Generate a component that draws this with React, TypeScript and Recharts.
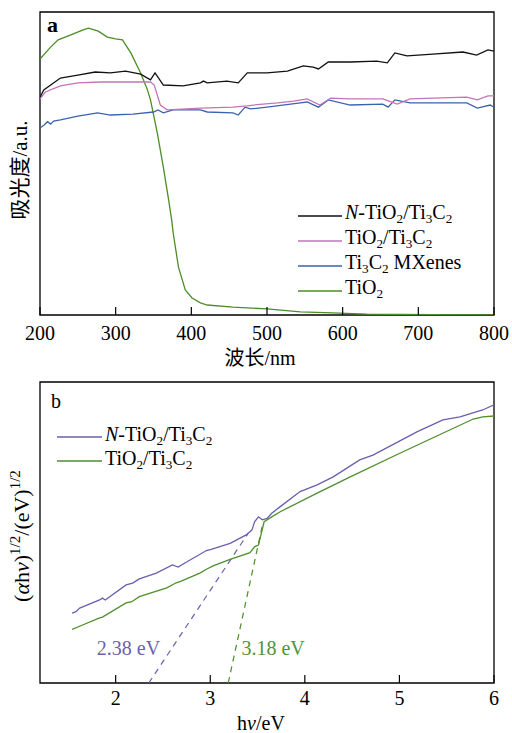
import React from 'react';
import { LineChart, Line, XAxis, YAxis, ReferenceArea, ReferenceDot, Legend } from 'recharts';

const FONT = "'Liberation Serif', 'Times New Roman', 'Noto Sans CJK SC', serif";

// ---------- Panel a : UV-vis absorbance ----------
const wlTicks = [200, 300, 400, 500, 600, 700, 800];

const nTiO2Wl = [200, 205, 227, 250, 273, 293, 313, 333, 346, 352, 363, 389, 412, 416, 421, 447, 462, 474, 500, 527, 548, 561, 568, 581, 610, 645, 659, 669, 685, 719, 759, 777, 792, 800];
const nTiO2Abs = [71.9, 74.3, 78.2, 79.2, 80.2, 79.9, 80.5, 79.5, 77.6, 79.9, 75.9, 75.6, 76.6, 77.2, 76.6, 77.2, 76.6, 79.9, 79.9, 80.5, 82.2, 81.8, 81.2, 83.5, 83.5, 83.8, 83.2, 86.5, 85.5, 86.1, 86.8, 85.8, 87.5, 87.1];

const tiO2Ti3C2Wl = [200, 207, 227, 250, 280, 323, 346, 351, 359, 368, 412, 455, 474, 482, 514, 535, 553, 570, 584, 610, 653, 672, 689, 720, 764, 778, 792, 800];
const tiO2Ti3C2Abs = [71.3, 73.6, 75.6, 76.6, 76.9, 76.9, 76.9, 75.9, 69.3, 67.7, 68.3, 68.6, 69.0, 69.3, 70.0, 70.6, 71.3, 69.3, 71.6, 71.3, 71.3, 69.6, 71.3, 71.6, 71.9, 71.0, 72.3, 72.3];

const ti3C2Wl = [200, 205, 210, 214, 218, 227, 250, 276, 293, 323, 350, 356, 363, 376, 412, 421, 455, 462, 471, 478, 500, 544, 553, 568, 581, 610, 653, 660, 669, 689, 764, 778, 795, 800];
const ti3C2Abs = [61.7, 62.6, 63.8, 63.0, 64.0, 64.4, 65.6, 66.7, 66.0, 66.3, 67.0, 67.7, 66.7, 67.7, 67.7, 67.0, 66.7, 66.0, 68.6, 68.0, 68.6, 70.0, 70.3, 68.6, 71.0, 69.3, 69.6, 68.6, 71.0, 70.0, 70.0, 68.3, 69.3, 68.6];

const tiO2Wl = [200, 214, 224, 240, 257, 264, 277, 289, 300, 309, 320, 333, 342, 346, 355, 363, 370, 374, 376, 383, 392, 401, 412, 421, 455, 500, 544, 587, 632, 676, 720, 800];
const tiO2Abs = [84.5, 88.4, 90.8, 92.4, 94.1, 94.7, 93.7, 91.7, 91.1, 90.8, 86.5, 79.9, 74.3, 71.0, 60.1, 48.8, 38.0, 31.4, 27.1, 15.8, 8.3, 5.6, 4.0, 3.3, 2.6, 2.0, 1.0, 0.7, 0.3, 0.2, 0.1, 0];

const legendA = [
  { name: 'N-TiO2/Ti3C2', color: '#111111' },
  { name: 'TiO2/Ti3C2', color: '#c374b9' },
  { name: 'Ti3C2 MXenes', color: '#3a63ae' },
  { name: 'TiO2', color: '#4d8d26' },
];

// ---------- Panel b : Tauc plot ----------
const evTicks = [2, 3, 4, 5, 6];

const nTaucEv = [1.54, 1.58, 1.62, 1.83, 1.86, 1.89, 2.11, 2.18, 2.25, 2.43, 2.60, 2.66, 2.75, 2.96, 3.01, 3.21, 3.38, 3.44, 3.47, 3.51, 3.55, 3.60, 3.65, 3.74, 3.95, 4.13, 4.30, 4.58, 4.72, 5.19, 5.46, 5.64, 5.88, 6.0];
const nTaucVal = [23.2, 23.7, 24.9, 27.6, 28.2, 27.6, 32.6, 33.2, 34.6, 36.5, 39.2, 38.5, 40.2, 44.0, 44.4, 46.4, 49.2, 50.8, 53.6, 55.2, 54.2, 54.7, 56.4, 58.6, 63.6, 65.8, 68.5, 74.1, 75.7, 83.5, 87.4, 88.4, 90.7, 92.4];

const taucEv = [1.54, 1.60, 1.83, 1.86, 2.11, 2.17, 2.25, 2.54, 2.64, 2.68, 2.89, 2.96, 3.03, 3.21, 3.42, 3.47, 3.51, 3.57, 3.65, 3.74, 4.13, 4.48, 5.01, 5.35, 5.78, 5.88, 6.0];
const taucVal = [17.8, 18.6, 21.6, 21.9, 26.6, 27.0, 28.7, 31.6, 33.3, 33.7, 36.5, 37.8, 38.9, 41.1, 43.3, 45.3, 45.8, 53.6, 55.2, 56.9, 63.1, 68.5, 76.4, 81.4, 87.7, 88.4, 88.7];

const nTangentEv = [2.35, 3.40];
const nTangentVal = [0, 49.7];
const tangentEv = [3.19, 3.56];
const tangentVal = [0, 53.6];

const gapLabels = [
  { text: '2.38 eV', ev: 1.80, val: 9.3, color: '#6a62ad' },
  { text: '3.18 eV', ev: 3.33, val: 9.3, color: '#4f9537' },
];

const legendB = [
  { name: 'N-TiO2/Ti3C2', color: '#6a5fae' },
  { name: 'TiO2/Ti3C2', color: '#4f8f2c' },
];

const zip = (xs: number[], ys: number[]) => xs.map((x, i) => ({ x, y: ys[i] }));

function chem(name: string) {
  const parts: React.ReactNode[] = [];
  let i = 0;
  if (name.startsWith('N-')) {
    parts.push(<i key="n">N</i>);
    parts.push('-');
    i = 2;
  }
  let buf = '';
  for (; i < name.length; i++) {
    const c = name[i];
    if (/[0-9]/.test(c) && i > 0 && /[A-Za-z]/.test(name[i - 1])) {
      if (buf) { parts.push(buf); buf = ''; }
      parts.push(
        <span key={'s' + i} style={{ fontSize: '0.66em', position: 'relative', top: '0.32em' }}>{c}</span>
      );
    } else buf += c;
  }
  if (buf) parts.push(buf);
  return parts;
}

const LegendBox = ({ items, lineW, rowH }: { items: { name: string; color: string }[]; lineW: number; rowH: number }) => (
  <div style={{ fontFamily: FONT, fontSize: 20, color: '#000' }}>
    {items.map((it, idx) => (
      <div key={idx} style={{ display: 'flex', alignItems: 'center', height: rowH }}>
        <svg width={lineW} height={4} style={{ marginRight: 3, display: 'block' }}>
          <line x1={0} x2={lineW} y1={2} y2={2} stroke={it.color} strokeWidth={1.4} />
        </svg>
        <span style={{ lineHeight: rowH + 'px', whiteSpace: 'nowrap', position: 'relative', top: -2 }}>{chem(it.name)}</span>
      </div>
    ))}
  </div>
);

const makeTick = (fs: number, dy: number) => (p: any) => (
  <g>
    <line x1={p.x} x2={p.x} y1={p.y} y2={p.y - 8} stroke="#000" strokeWidth={1.2} />
    <text x={p.x} y={p.y + dy} textAnchor="middle" fontSize={fs} fontFamily={FONT} fill="#000">
      {p.payload.value}
    </text>
  </g>
);

export default function App() {
  return (
    <div style={{ position: 'absolute', left: 0, top: 0, width: 512, height: 733, background: '#fff' }}>
      <div style={{ position: 'absolute', left: 0, top: 0 }}>
        <LineChart width={512} height={372} margin={{ top: 12, right: 18, bottom: 0, left: 0 }}>
          <XAxis
            type="number"
            dataKey="x"
            domain={[200, 800]}
            ticks={wlTicks}
            allowDataOverflow
            height={57}
            axisLine={false}
            tickLine={false}
            tickSize={0}
            tickMargin={0}
            interval={0}
            tick={makeTick(20, 25)}
            label={() => (
              <text x={260} y={365} textAnchor="middle" fontSize={20} fontFamily={FONT} fill="#000">
                波长/nm
              </text>
            )}
          />
          <YAxis
            type="number"
            domain={[0, 100]}
            width={40}
            tick={false}
            axisLine={false}
            tickLine={false}
            allowDataOverflow
            label={() => (
              <text transform="translate(27,170) rotate(-90)" textAnchor="middle" fontSize={21} fontFamily={FONT} fill="#000">
                吸光度/a.u.
              </text>
            )}
          />
          <ReferenceArea
            x1={200}
            x2={800}
            y1={0}
            y2={100}
            fill="none"
            stroke="#000"
            strokeWidth={1.3}
            label={(p: any) => (
              <text x={p.viewBox.x + 7} y={p.viewBox.y + 20} fontSize={22} fontWeight="bold" fontFamily={FONT} fill="#000">
                a
              </text>
            )}
          />
          <Line data={zip(tiO2Wl, tiO2Abs)} dataKey="y" name="TiO2" stroke={legendA[3].color} strokeWidth={1.3} dot={false} isAnimationActive={false} />
          <Line data={zip(ti3C2Wl, ti3C2Abs)} dataKey="y" name="Ti3C2 MXenes" stroke={legendA[2].color} strokeWidth={1.3} dot={false} isAnimationActive={false} />
          <Line data={zip(tiO2Ti3C2Wl, tiO2Ti3C2Abs)} dataKey="y" name="TiO2/Ti3C2" stroke={legendA[1].color} strokeWidth={1.3} dot={false} isAnimationActive={false} />
          <Line data={zip(nTiO2Wl, nTiO2Abs)} dataKey="y" name="N-TiO2/Ti3C2" stroke={legendA[0].color} strokeWidth={1.3} dot={false} isAnimationActive={false} />
          <Legend
            layout="vertical"
            verticalAlign="middle"
            align="center"
            wrapperStyle={{ left: 298, top: 203, width: 200 }}
            content={() => <LegendBox items={legendA} lineW={44} rowH={25} />}
          />
        </LineChart>
      </div>
      <div style={{ position: 'absolute', left: 0, top: 372 }}>
        <LineChart width={512} height={361} margin={{ top: 10, right: 18, bottom: 0, left: 0 }}>
          <XAxis
            type="number"
            dataKey="x"
            domain={[1.2, 6]}
            ticks={evTicks}
            allowDataOverflow
            height={50}
            axisLine={false}
            tickLine={false}
            tickSize={0}
            tickMargin={0}
            interval={0}
            tick={makeTick(20, 22)}
            label={() => (
              <text x={261} y={358} textAnchor="middle" fontSize={20} fontFamily={FONT} fill="#000">
                h<tspan fontStyle="italic">ν</tspan>/eV
              </text>
            )}
          />
          <YAxis
            type="number"
            domain={[0, 100]}
            width={40}
            tick={false}
            axisLine={false}
            tickLine={false}
            allowDataOverflow
            label={() => (
              <text transform="translate(29,164) rotate(-90)" textAnchor="middle" fontSize={22} fontFamily={FONT} fill="#000">
                (<tspan fontStyle="italic">α</tspan>h<tspan fontStyle="italic">ν</tspan>)
                <tspan fontSize={15} dy={-9}>1/2</tspan>
                <tspan dy={9}>/(eV)</tspan>
                <tspan fontSize={15} dy={-9}>1/2</tspan>
              </text>
            )}
          />
          <ReferenceArea
            x1={1.2}
            x2={6}
            y1={0}
            y2={100}
            fill="none"
            stroke="#000"
            strokeWidth={1.3}
            label={(p: any) => (
              <text x={p.viewBox.x + 11} y={p.viewBox.y + 26} fontSize={20} fontFamily={FONT} fill="#000">
                b
              </text>
            )}
          />
          <Line data={zip(nTangentEv, nTangentVal)} dataKey="y" stroke={legendB[0].color} strokeWidth={1.2} strokeDasharray="6 5" dot={false} isAnimationActive={false} legendType="none" />
          <Line data={zip(tangentEv, tangentVal)} dataKey="y" stroke={legendB[1].color} strokeWidth={1.2} strokeDasharray="6 5" dot={false} isAnimationActive={false} legendType="none" />
          <Line data={zip(taucEv, taucVal)} dataKey="y" name="TiO2/Ti3C2" stroke={legendB[1].color} strokeWidth={1.3} dot={false} isAnimationActive={false} />
          <Line data={zip(nTaucEv, nTaucVal)} dataKey="y" name="N-TiO2/Ti3C2" stroke={legendB[0].color} strokeWidth={1.3} dot={false} isAnimationActive={false} />
          {gapLabels.map((g) => (
            <ReferenceDot
              key={g.text}
              x={g.ev}
              y={g.val}
              r={0}
              fill="none"
              stroke="none"
              label={(p: any) => (
                <text x={p.viewBox.x} y={p.viewBox.y} fontSize={20} fontFamily={FONT} fill={g.color}>
                  {g.text}
                </text>
              )}
            />
          ))}
          <Legend
            layout="vertical"
            verticalAlign="middle"
            align="center"
            wrapperStyle={{ left: 57, top: 53, width: 200 }}
            content={() => <LegendBox items={legendB} lineW={45} rowH={24} />}
          />
        </LineChart>
      </div>
    </div>
  );
}
